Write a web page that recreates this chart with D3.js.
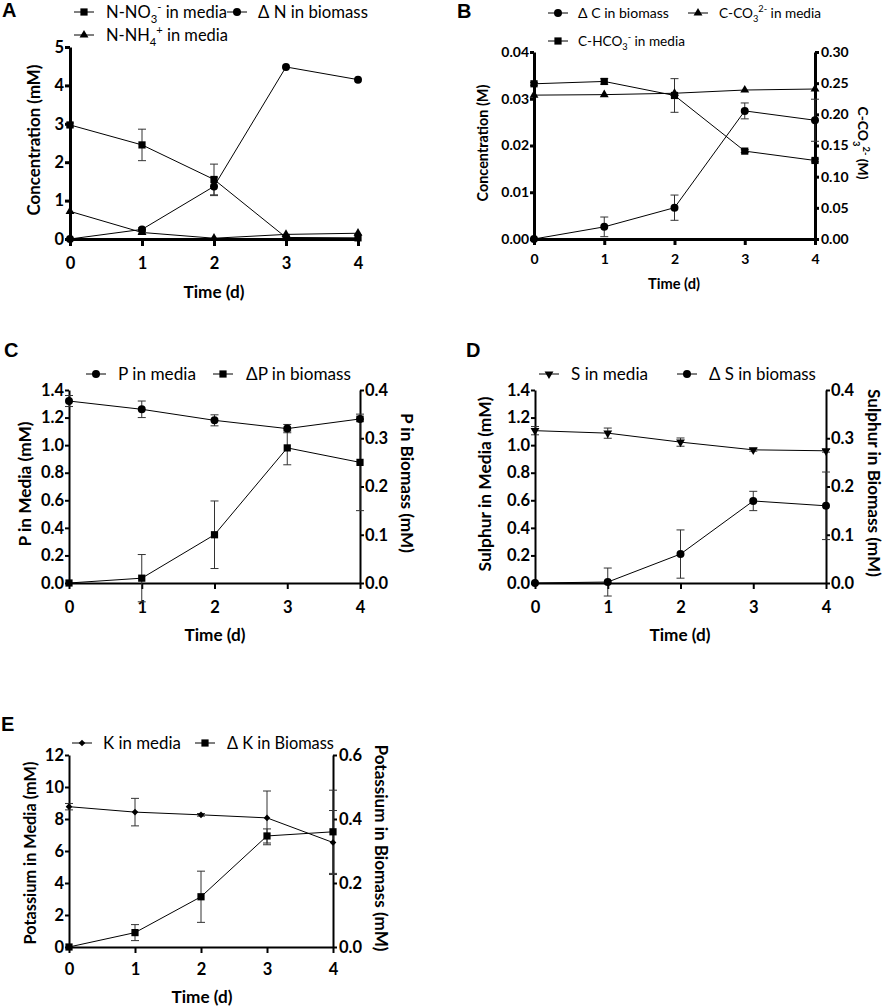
<!DOCTYPE html>
<html><head><meta charset="utf-8">
<script src="https://cdn.jsdelivr.net/npm/d3@7"></script>
<style>
body{margin:0;background:#fff}
svg{display:block}
text{font-family:Lato,"Open Sans",sans-serif;fill:#000}
</style>
</head><body>
<svg id="chart" width="886" height="1008"></svg>
<script>
// ---------- DATA ----------
const days = [0, 1, 2, 3, 4];

// Panel A (mM)
const aNO3      = [2.97, 2.45, 1.55, 0.04, 0.03];
const aNO3Err   = [0.05, 0.41, 0.40, 0, 0];
const aDeltaN   = [0, 0.25, 1.37, 4.48, 4.15];
const aDeltaNErr= [0, 0.04, 0.24, 0, 0];
const aNH4      = [0.72, 0.17, 0.02, 0.12, 0.15];
const aNH4Err   = [0, 0.02, 0, 0, 0];
const aTicks    = [0, 1, 2, 3, 4, 5];

// Panel B (M)
const bDeltaC    = [0, 0.0026, 0.0067, 0.0274, 0.0254];
const bDeltaCErr = [0, 0.0021, 0.0027, 0.0017, 0.0045];
const bHCO3      = [0.0332, 0.0337, 0.0307, 0.0188, 0.0168];
const bHCO3Err   = [0.0003, 0.0006, 0.0036, 0.0003, 0.0003];
const bCO3       = [0.2308, 0.2316, 0.2338, 0.2390, 0.2406];
const bTicksL    = [0, 0.01, 0.02, 0.03, 0.04];
const bTicksR    = [0, 0.05, 0.10, 0.15, 0.20, 0.25, 0.30];

// Panel C (mM)
const cP        = [1.32, 1.26, 1.18, 1.12, 1.19];
const cPErr     = [0.04, 0.06, 0.04, 0.03, 0.02];
const cDeltaP   = [0, 0.01, 0.10, 0.28, 0.25];
const cDeltaPErr= [0, 0.049, 0.07, 0.035, 0.10];
const cTicksL   = [0, 0.2, 0.4, 0.6, 0.8, 1.0, 1.2, 1.4];
const cTicksR   = [0, 0.1, 0.2, 0.3, 0.4];

// Panel D (mM)
const dS        = [1.105, 1.087, 1.022, 0.966, 0.959];
const dSErr     = [0.03, 0.037, 0.03, 0.01, 0.01];
const dDeltaS   = [0, 0.002, 0.06, 0.17, 0.16];
const dDeltaSErr= [0, 0.029, 0.05, 0.02, 0.07];
const dTicksL   = [0, 0.2, 0.4, 0.6, 0.8, 1.0, 1.2, 1.4];
const dTicksR   = [0, 0.1, 0.2, 0.3, 0.4];

// Panel E (mM)
const eK        = [8.77, 8.43, 8.26, 8.07, 6.53];
const eKErr     = [0.2, 0.86, 0.08, 1.68, 2.0];
const eDeltaK   = [0, 0.045, 0.157, 0.347, 0.36];
const eDeltaKErr= [0, 0.025, 0.08, 0.022, 0.13];
const eTicksL   = [0, 2, 4, 6, 8, 10, 12];
const eTicksR   = [0, 0.2, 0.4, 0.6];

// ---------- HELPERS ----------
const svg = d3.select('#chart');

function rich(textSel, segs, fs) {
  textSel.selectAll('tspan').remove();
  let shift = 0;
  segs.forEach(s => {
    let target = 0, size = fs;
    if (s.s === 'sub') { target = 0.32 * fs; size = fs * 0.68; }
    if (s.s === 'sup') { target = -0.42 * fs; size = fs * 0.68; }
    textSel.append('tspan').text(s.t).attr('dy', target - shift).style('font-size', size + 'px');
    shift = target;
  });
}
// render rich text, then rescale font so its length matches the reference length
function fitRich(textSel, segs, fs, len) {
  rich(textSel, segs, fs);
  if (len) {
    const w = textSel.node().getComputedTextLength();
    if (w > 0) { fs = fs * len / w; rich(textSel, segs, fs); }
  }
  return fs;
}

function marker(g, shape, cx, cy) {
  let type = d3.symbolSquare, size = 52, rot = 0;
  if (shape === 'circle') { type = d3.symbolCircle; size = 50; }
  if (shape === 'triangle') { type = d3.symbolTriangle; size = 34; }
  if (shape === 'tridown') { type = d3.symbolTriangle; size = 34; rot = 180; }
  if (shape === 'diamond') { type = d3.symbolSquare; size = 22; rot = 45; }
  g.append('path')
    .attr('d', d3.symbol().type(type).size(size)())
    .attr('transform', `translate(${cx},${cy}) rotate(${rot})`)
    .attr('fill', '#000');
}

function panel(cfg) {
  const g = svg.append('g');
  const x = d3.scaleLinear().domain([0, 4]).range([cfg.x0, cfg.x1]);
  const yL = d3.scaleLinear().domain([cfg.yLticks[0], cfg.yLticks[cfg.yLticks.length - 1]]).range([cfg.y0, cfg.y1]);
  const yR = cfg.yRticks ? d3.scaleLinear().domain([cfg.yRticks[0], cfg.yRticks[cfg.yRticks.length - 1]]).range([cfg.y0, cfg.y1]) : null;

  const styleAxis = (sel, fs) => {
    sel.select('.domain').attr('stroke', '#000').attr('stroke-width', cfg.aw);
    sel.selectAll('.tick line').attr('stroke', '#000').attr('stroke-width', cfg.aw);
    sel.selectAll('.tick text').attr('fill', '#000').style('font-size', fs + 'px').style('font-weight', 'bold').style('font-family', 'Lato');
  };

  const gl = g.append('g').attr('transform', `translate(${cfg.x0},0)`)
    .call(d3.axisLeft(yL).tickValues(cfg.yLticks).tickFormat(d3.format(cfg.fL)).tickSize(cfg.tsL).tickSizeOuter(0).tickPadding(cfg.padL));
  styleAxis(gl, cfg.tfs);
  if (yR) {
    const gr = g.append('g').attr('transform', `translate(${cfg.x1},0)`)
      .call(d3.axisRight(yR).tickValues(cfg.yRticks).tickFormat(d3.format(cfg.fR)).tickSize(cfg.tsL).tickSizeOuter(0).tickPadding(cfg.padR));
    styleAxis(gr, cfg.tfs);
  }
  const gb = g.append('g').attr('transform', `translate(0,${cfg.y0})`)
    .call(d3.axisBottom(x).tickValues(days).tickFormat(d3.format('d')).tickSize(cfg.tsB).tickSizeOuter(0).tickPadding(cfg.padB));
  styleAxis(gb, cfg.tfs);

  // series
  cfg.series.forEach(s => {
    const y = s.axis === 'R' ? yR : yL;
    const line = d3.line().x((d, i) => x(days[i])).y(d => y(d));
    g.append('path').datum(s.vals).attr('d', line).attr('fill', 'none').attr('stroke', '#000').attr('stroke-width', 1);
    if (s.err) {
      s.vals.forEach((v, i) => {
        const e = s.err[i];
        if (!e) return;
        const cx = x(days[i]);
        const t = y(v + e), b = y(v - e);
        g.append('line').attr('x1', cx).attr('x2', cx).attr('y1', t).attr('y2', b).attr('stroke', '#333').attr('stroke-width', 1);
        [t, b].forEach(yy => g.append('line').attr('x1', cx - 4).attr('x2', cx + 4).attr('y1', yy).attr('y2', yy).attr('stroke', '#333').attr('stroke-width', 1));
      });
    }
  });
  cfg.series.forEach(s => {
    const y = s.axis === 'R' ? yR : yL;
    s.vals.forEach((v, i) => marker(g, s.shape, x(days[i]), y(v)));
  });

  // legend
  cfg.legend.forEach(it => {
    g.append('line').attr('x1', it.x).attr('x2', it.x + 20).attr('y1', it.y).attr('y2', it.y).attr('stroke', '#000').attr('stroke-width', 1);
    marker(g, it.shape, it.x + 10, it.y);
    const t = g.append('text').attr('x', it.tx).attr('y', it.y + cfg.lfs * 0.36);
    fitRich(t, it.segs, cfg.lfs, it.len);
  });

  // axis titles
  const xt = g.append('text').attr('x', cfg.xl[0]).attr('y', cfg.xl[1]).attr('text-anchor', 'middle').style('font-weight', 'bold');
  fitRich(xt, [{t: 'Time (d)'}], cfg.afs, cfg.xl[2]);
  const yl = g.append('text').attr('transform', `translate(${cfg.yl[0] + cfg.afs * 0.36},${cfg.yl[1]}) rotate(-90)`)
    .attr('text-anchor', 'middle').style('font-weight', 'bold');
  fitRich(yl, cfg.ylSegs, cfg.afs, cfg.yl[2]);
  if (cfg.yr) {
    const yr = g.append('text').attr('transform', `translate(${cfg.yr[0] - cfg.afs * 0.36},${cfg.yr[1]}) rotate(90)`)
      .attr('text-anchor', 'middle').style('font-weight', 'bold');
    fitRich(yr, cfg.yrSegs, cfg.afs, cfg.yr[2]);
  }
  // panel letter
  g.append('text').attr('x', cfg.letter[0]).attr('y', cfg.letter[1]).style('font-size', '20px').style('font-weight', 'bold')
    .style('font-family', 'Arial, Liberation Sans, sans-serif').text(cfg.letterText);
}

// ---------- PANELS ----------
panel({
  letterText: 'A', letter: [2, 17],
  x0: 70, x1: 358, y0: 239, y1: 47, aw: 3,
  yLticks: aTicks, fL: 'd', tsL: 5, padL: 1, tsB: 7, padB: 11,
  tfs: 16.5, afs: 18, lfs: 16,
  xl: [214, 298, 61], yl: [34, 140, 151], ylSegs: [{t: 'Concentration (mM)'}],
  series: [
    {vals: aNO3, err: aNO3Err, shape: 'square'},
    {vals: aDeltaN, err: aDeltaNErr, shape: 'circle'},
    {vals: aNH4, err: aNH4Err, shape: 'triangle'}
  ],
  legend: [
    {x: 74, y: 12, tx: 106, len: 121, shape: 'square', segs: [{t: 'N-NO'}, {t: '3', s: 'sub'}, {t: '-', s: 'sup'}, {t: ' in media'}]},
    {x: 227, y: 12, tx: 258, len: 110, shape: 'circle', segs: [{t: 'Δ N in biomass'}]},
    {x: 74, y: 35, tx: 106, len: 122, shape: 'triangle', segs: [{t: 'N-NH'}, {t: '4', s: 'sub'}, {t: '+', s: 'sup'}, {t: ' in media'}]}
  ]
});

panel({
  letterText: 'B', letter: [457, 18],
  x0: 534, x1: 815, y0: 239, y1: 52, aw: 3,
  yLticks: bTicksL, fL: '.2f', yRticks: bTicksR, fR: '.2f', tsL: 4, padL: 1, padR: 2, tsB: 6, padB: 9,
  tfs: 14, afs: 15, lfs: 14,
  xl: [674, 289, 52], yl: [483, 143, 117], ylSegs: [{t: 'Concentration (M)'}],
  yr: [863, 143, 73], yrSegs: [{t: 'C-CO'}, {t: '3', s: 'sub'}, {t: '2-', s: 'sup'}, {t: ' (M)'}],
  series: [
    {vals: bDeltaC, err: bDeltaCErr, shape: 'circle'},
    {vals: bHCO3, err: bHCO3Err, shape: 'square'},
    {vals: bCO3, axis: 'R', shape: 'triangle'}
  ],
  legend: [
    {x: 548, y: 13, tx: 578, len: 91, shape: 'circle', segs: [{t: 'Δ C in biomass'}]},
    {x: 688, y: 13, tx: 719, len: 102, shape: 'triangle', segs: [{t: 'C-CO'}, {t: '3', s: 'sub'}, {t: '2-', s: 'sup'}, {t: ' in media'}]},
    {x: 548, y: 41, tx: 578, len: 107, shape: 'square', segs: [{t: 'C-HCO'}, {t: '3', s: 'sub'}, {t: '-', s: 'sup'}, {t: ' in media'}]}
  ]
});

panel({
  letterText: 'C', letter: [4, 357],
  x0: 69, x1: 360, y0: 583, y1: 390, aw: 2,
  yLticks: cTicksL, fL: '.1f', yRticks: cTicksR, fR: '.1f', tsL: 4, padL: 1, padR: 1, tsB: 6, padB: 12,
  tfs: 16.5, afs: 18, lfs: 16,
  xl: [215, 641, 61], yl: [25, 484, 125], ylSegs: [{t: 'P in Media (mM)'}],
  yr: [407, 483, 140], yrSegs: [{t: 'P in Biomass (mM)'}],
  series: [
    {vals: cP, err: cPErr, shape: 'circle'},
    {vals: cDeltaP, err: cDeltaPErr, axis: 'R', shape: 'square'}
  ],
  legend: [
    {x: 86, y: 374, tx: 118, len: 78, shape: 'circle', segs: [{t: 'P in media'}]},
    {x: 213, y: 374, tx: 246, len: 105, shape: 'square', segs: [{t: 'ΔP in biomass'}]}
  ]
});

panel({
  letterText: 'D', letter: [466, 357],
  x0: 535, x1: 826, y0: 583, y1: 390, aw: 2,
  yLticks: dTicksL, fL: '.1f', yRticks: dTicksR, fR: '.1f', tsL: 4, padL: 1, padR: 1, tsB: 6, padB: 12,
  tfs: 16.5, afs: 17, lfs: 16,
  xl: [680, 641, 61], yl: [485, 484, 175], ylSegs: [{t: 'Sulphur in Media (mM)'}],
  yr: [874, 483, 188], yrSegs: [{t: 'Sulphur in Biomass (mM)'}],
  series: [
    {vals: dS, err: dSErr, shape: 'tridown'},
    {vals: dDeltaS, err: dDeltaSErr, axis: 'R', shape: 'circle'}
  ],
  legend: [
    {x: 539, y: 374, tx: 571, len: 77, shape: 'tridown', segs: [{t: 'S in media'}]},
    {x: 677, y: 374, tx: 709, len: 107, shape: 'circle', segs: [{t: 'Δ S in biomass'}]}
  ]
});

panel({
  letterText: 'E', letter: [1, 731],
  x0: 69, x1: 333, y0: 947, y1: 755, aw: 2,
  yLticks: eTicksL, fL: 'd', yRticks: eTicksR, fR: '.1f', tsL: 4, padL: 1, padR: 2, tsB: 6, padB: 10,
  tfs: 16.5, afs: 18, lfs: 16,
  xl: [202, 1003, 61], yl: [30, 853, 183], ylSegs: [{t: 'Potassium in Media (mM)'}],
  yr: [381, 848, 207], yrSegs: [{t: 'Potassium in Biomass (mM)'}],
  series: [
    {vals: eK, err: eKErr, shape: 'diamond'},
    {vals: eDeltaK, err: eDeltaKErr, axis: 'R', shape: 'square'}
  ],
  legend: [
    {x: 72, y: 743, tx: 103, len: 78, shape: 'diamond', segs: [{t: 'K in media'}]},
    {x: 195, y: 743, tx: 227, len: 107, shape: 'square', segs: [{t: 'Δ K in Biomass'}]}
  ]
});
</script>
</body></html>
